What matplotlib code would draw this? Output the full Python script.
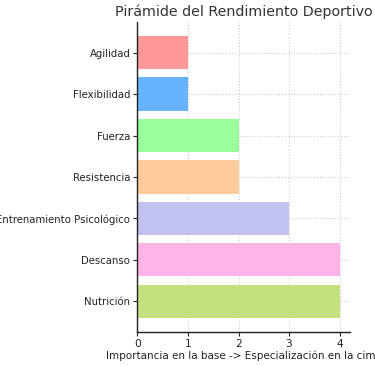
import matplotlib
matplotlib.use("Agg")
import matplotlib.pyplot as plt

categories = ["Nutrición", "Descanso", "Entrenamiento Psicológico", "Resistencia",
              "Fuerza", "Flexibilidad", "Agilidad"]
values = [4, 4, 3, 2, 2, 1, 1]
colors = ["#c4e17f", "#ffb3e6", "#c2c2f0", "#ffcc99", "#99ff99", "#66b3ff", "#ff9999"]

s = 0.73
fig = plt.figure(figsize=(3.75, 3.66), dpi=100)
ax = fig.add_axes([0.366, 0.093, 0.567, 0.847])
ax.barh(categories, values, color=colors, height=0.8, zorder=2)
ax.set_xlim(0, 4.2)
ax.grid(True, linestyle=":", color="#cccccc", linewidth=0.8, zorder=0)
ax.spines["top"].set_visible(False)
ax.spines["right"].set_visible(False)
for sp in ("left", "bottom"):
    ax.spines[sp].set_linewidth(1.0)
    ax.spines[sp].set_color("#222222")
ax.tick_params(labelsize=10 * s, colors="#222222", length=3, width=0.8, pad=2)
ax.tick_params(axis="x", labelsize=10.5 * s)
ax.set_title("Pirámide del Rendimiento Deportivo", fontsize=14 * s, color="#333333", pad=6 * s)
ax.set_xlabel("Importancia en la base -> Especialización en la cima", fontsize=10.2 * s,
              color="#222222", labelpad=1)
fig.savefig("out.png", dpi=100)
